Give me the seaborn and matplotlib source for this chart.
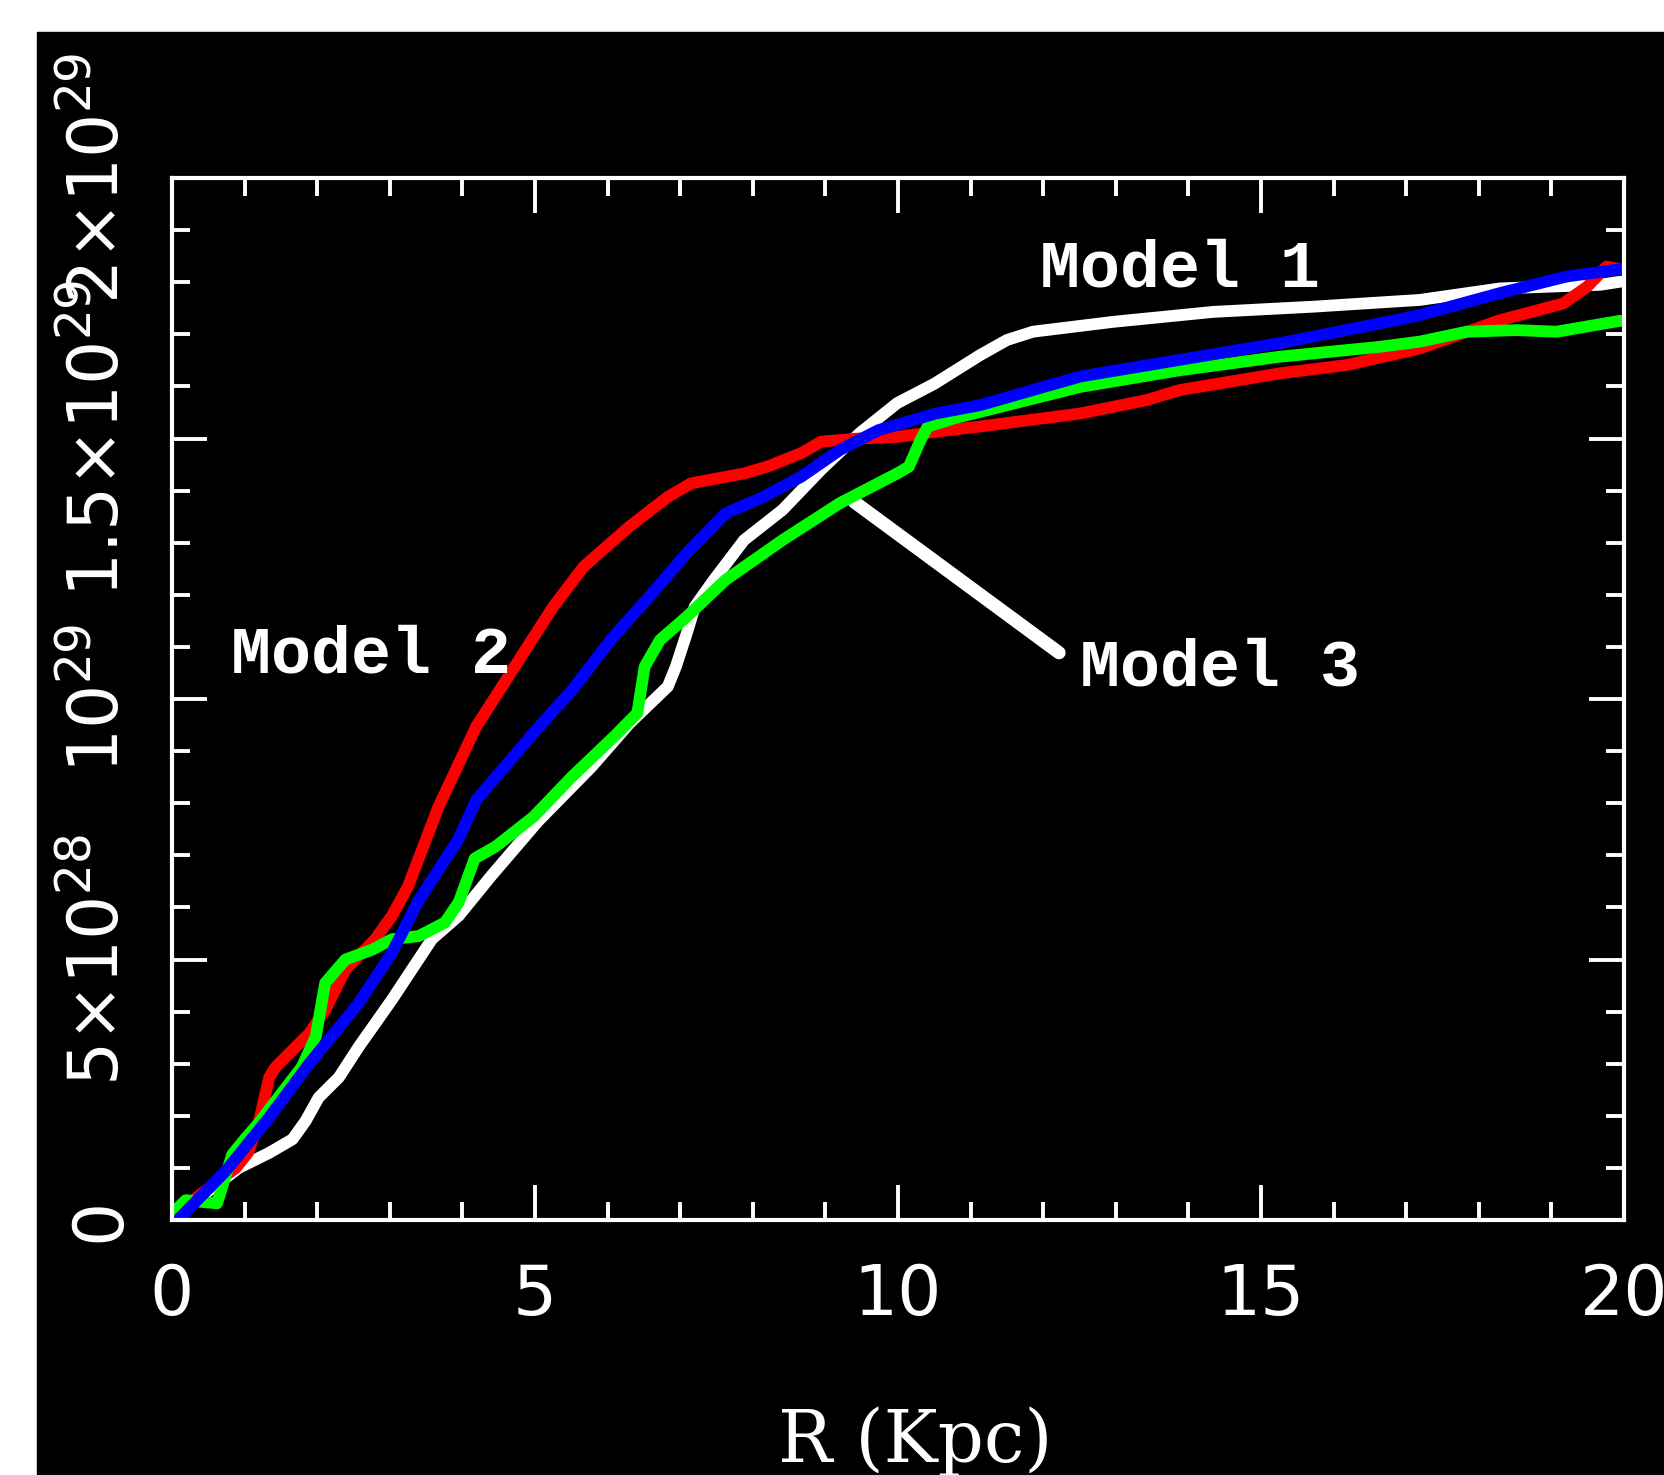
import numpy as np
import pandas as pd
import matplotlib
matplotlib.use("Agg")
import matplotlib.pyplot as plt
import matplotlib.ticker as mticker
from matplotlib.patches import Rectangle
import seaborn as sns

# curves, R in kpc, values in units of 1e28
r_model1 = [0.0, 0.45, 0.92, 1.34, 1.66, 1.84, 2.02, 2.30, 2.57, 3.03, 3.58, 3.95, 4.40, 5.04,
            5.78, 6.30, 6.83, 6.94, 7.09, 7.20, 7.46, 7.88, 8.41, 8.94, 9.47, 9.99, 10.50,
            11.13, 11.50, 11.86, 12.97, 14.34, 15.72, 17.19, 18.29, 19.67, 19.95]
v_model1 = [0.0, 0.50, 1.00, 1.29, 1.55, 1.90, 2.35, 2.74, 3.32, 4.23, 5.39, 5.84, 6.61, 7.65,
            8.70, 9.53, 10.24, 10.62, 11.26, 11.77, 12.28, 13.05, 13.63, 14.40, 15.10, 15.68, 16.05,
            16.60, 16.89, 17.05, 17.24, 17.43, 17.53, 17.66, 17.88, 17.95, 18.01]

r_model2 = [0.0, 0.38, 0.88, 1.05, 1.20, 1.34, 1.43, 1.66, 1.89, 2.11, 2.39, 2.80, 3.03, 3.25,
            3.67, 4.19, 4.72, 5.25, 5.67, 6.30, 6.83, 7.15, 7.88, 8.20, 8.67, 8.94, 9.47, 9.99,
            10.52, 11.13, 12.51, 13.43, 13.88, 15.26, 16.18, 17.19, 18.29, 19.16, 19.49, 19.76, 19.95]
v_model2 = [0.0, 0.48, 1.00, 1.30, 1.90, 2.74, 2.94, 3.26, 3.58, 4.03, 4.81, 5.39, 5.84, 6.40,
            7.93, 9.47, 10.62, 11.77, 12.54, 13.31, 13.88, 14.14, 14.33, 14.46, 14.72, 14.94, 15.00, 15.03,
            15.13, 15.23, 15.48, 15.74, 15.93, 16.25, 16.41, 16.73, 17.27, 17.59, 17.91, 18.30, 18.25]

r_model3 = [0.0, 0.19, 0.40, 0.62, 0.83, 1.02, 1.20, 1.79, 1.98, 2.11, 2.39, 2.76, 3.03, 3.40,
            3.76, 3.95, 4.17, 4.46, 4.98, 5.51, 6.09, 6.41, 6.51, 6.72, 7.09, 7.62, 8.41, 9.20,
            9.99, 10.15, 10.31, 10.41, 10.78, 11.13, 12.51, 13.88, 15.26, 16.64, 17.19, 17.83,
            18.52, 19.07, 19.95]
v_model3 = [0.12, 0.38, 0.35, 0.32, 1.26, 1.58, 1.87, 2.94, 3.52, 4.55, 5.00, 5.19, 5.39, 5.45,
            5.71, 6.10, 6.94, 7.17, 7.74, 8.51, 9.28, 9.73, 10.62, 11.13, 11.58, 12.28, 13.05, 13.76,
            14.33, 14.46, 14.97, 15.23, 15.39, 15.51, 15.99, 16.31, 16.57, 16.76, 16.86, 17.05,
            17.08, 17.05, 17.26]

r_blue = [0.08, 0.74, 1.34, 1.89, 2.57, 3.03, 3.40, 3.95, 4.19, 4.98, 5.51, 6.04, 6.57, 7.09,
          7.62, 8.15, 8.67, 9.20, 9.73, 10.52, 11.13, 12.51, 13.88, 15.26, 16.64, 17.19, 18.29,
          19.21, 19.95]
v_blue = [0.0, 0.94, 1.97, 3.00, 4.16, 5.13, 6.14, 7.32, 8.06, 9.35, 10.17, 11.13, 11.96, 12.80,
          13.56, 13.88, 14.27, 14.78, 15.16, 15.48, 15.64, 16.19, 16.51, 16.83, 17.21, 17.37, 17.79,
          18.11, 18.25]

ytick_vals = [0, 5e28, 1e29, 1.5e29, 2e29]
ytick_labels = ["0", r"$5{\times}10^{28}$", r"$10^{29}$", r"$1.5{\times}10^{29}$", r"$2{\times}10^{29}$"]
xtick_vals = [0, 5, 10, 15, 20]

sns.set_style("ticks")
plt.rcParams["font.family"] = ["DejaVu Sans"]
plt.rcParams["mathtext.fontset"] = "dejavusans"

fig = plt.figure(figsize=(16.64, 14.75), dpi=100, facecolor="white")
# black panel behind the plot (white strip on the left and top)
fig.patches.append(Rectangle((37 / 1664, 0), 1 - 37 / 1664, 1 - 32 / 1475,
                             transform=fig.transFigure, color="black", zorder=-1))
ax = fig.add_axes([172 / 1664, 255 / 1475, 1452 / 1664, 1042 / 1475])
ax.set_facecolor("black")

series = [(r_model1, v_model1, "#ffffff"),
          (r_model2, v_model2, "#ff0000"),
          (r_model3, v_model3, "#00ff00"),
          (r_blue, v_blue, "#0000ff")]
for rr, vv, col in series:
    d = pd.DataFrame({"R": rr, "V": np.array(vv) * 1e28})
    sns.lineplot(data=d, x="R", y="V", color=col, linewidth=8.5, estimator=None,
                 sort=False, ax=ax, legend=False)

ax.set_xlim(0, 20)
ax.set_ylim(0, 2e29)

ax.set_xticks(xtick_vals, [str(v) for v in xtick_vals])
ax.set_yticks(ytick_vals, ytick_labels, rotation=90, va="center")
ax.xaxis.set_minor_locator(mticker.MultipleLocator(1))
ax.yaxis.set_minor_locator(mticker.MultipleLocator(1e28))

ax.tick_params(which="both", direction="in", top=True, right=True,
               colors="white", width=2.8)
ax.tick_params(which="major", length=25, labelsize=50)
ax.tick_params(which="minor", length=13)
ax.tick_params(axis="x", which="major", pad=30)
ax.tick_params(axis="y", which="major", pad=28)
for s in ax.spines.values():
    s.set_color("white")
    s.set_linewidth(3)

ax.set_ylabel("")
ax.set_xlabel("R (Kpc)", fontfamily="DejaVu Serif", fontsize=52, color="white")
ax.xaxis.set_label_coords(0.512, -0.232)
ax.xaxis.label.set_va("baseline")

lab = dict(color="white", fontfamily="Liberation Mono", fontweight="bold", fontsize=48)
ax.text(11.96, 17.91e28, "Model 1", va="baseline", ha="left", **lab)
ax.text(0.81, 10.50e28, "Model 2", va="baseline", ha="left", **lab)
ax.annotate("Model 3", xy=(9.40, 13.78e28), xytext=(12.51, 10.26e28),
            va="baseline", ha="left",
            arrowprops=dict(arrowstyle="-", color="white", lw=9.5, relpos=(0, 0.5),
                            shrinkA=16, shrinkB=0),
            zorder=1.5, **lab)

fig.savefig("out.png", dpi=100, facecolor="white")
